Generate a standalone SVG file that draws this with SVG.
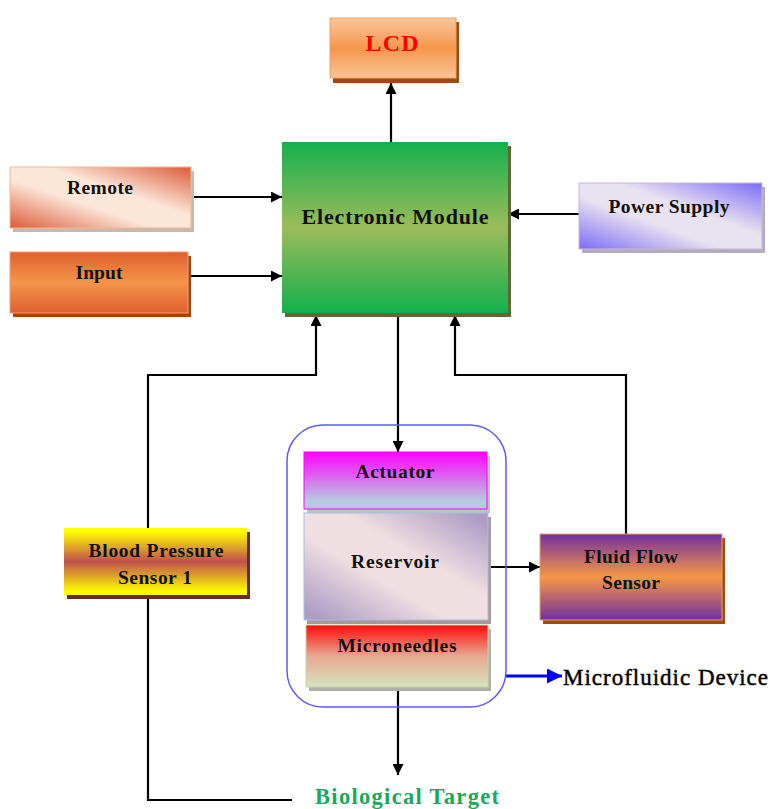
<svg xmlns="http://www.w3.org/2000/svg" width="771" height="809" viewBox="0 0 771 809">
<style>
.t{font-family:"Liberation Serif","Times New Roman",serif;font-weight:bold;fill:#111;text-anchor:middle;font-size:19.5px}
.c{fill:none;stroke:#000;stroke-width:2.2}
</style>
<defs>
<marker id="ah" viewBox="0 0 10 10" refX="10" refY="5" markerWidth="5" markerHeight="5" orient="auto" markerUnits="strokeWidth"><path d="M0,0 L10,5 L0,10 z" fill="#000"/></marker>
<marker id="ahb" viewBox="0 0 10 10" refX="10" refY="5" markerWidth="5" markerHeight="5" orient="auto" markerUnits="strokeWidth"><path d="M0,0 L10,5 L0,10 z" fill="#0000ff"/></marker>
<linearGradient id="gLcd" x1="0" y1="0" x2="0" y2="1"><stop offset="0" stop-color="#fac79f"/><stop offset="0.5" stop-color="#f5974b"/><stop offset="1" stop-color="#f9c498"/></linearGradient>
<linearGradient id="gEm" x1="0" y1="0" x2="0" y2="1"><stop offset="0" stop-color="#14b04e"/><stop offset="0.5" stop-color="#9cbb5a"/><stop offset="1" stop-color="#14b04e"/></linearGradient>
<linearGradient id="gRem" x1="1" y1="0" x2="0" y2="1"><stop offset="0" stop-color="#dc5a38"/><stop offset="0.4" stop-color="#fbe6d8"/><stop offset="0.6" stop-color="#fbe6d8"/><stop offset="1" stop-color="#dc5a38"/></linearGradient>
<linearGradient id="gIn" x1="0" y1="0" x2="0" y2="1"><stop offset="0" stop-color="#df5f30"/><stop offset="0.5" stop-color="#f5954a"/><stop offset="1" stop-color="#df5f30"/></linearGradient>
<linearGradient id="gPs" x1="1" y1="0" x2="0" y2="1"><stop offset="0" stop-color="#7d6cf5"/><stop offset="0.4" stop-color="#e9e2f0"/><stop offset="0.6" stop-color="#e9e2f0"/><stop offset="1" stop-color="#7d6cf5"/></linearGradient>
<linearGradient id="gAct" x1="0" y1="0" x2="0" y2="1"><stop offset="0" stop-color="#ff00ff"/><stop offset="0.85" stop-color="#b8c8e0"/></linearGradient>
<linearGradient id="gRes" x1="1" y1="0" x2="0" y2="1"><stop offset="0.05" stop-color="#ad9dc5"/><stop offset="0.4" stop-color="#f0dfe2"/><stop offset="0.6" stop-color="#f0dfe2"/><stop offset="0.95" stop-color="#ad9dc5"/></linearGradient>
<linearGradient id="gMn" x1="0" y1="0" x2="0" y2="1"><stop offset="0" stop-color="#ff0a0a"/><stop offset="0.5" stop-color="#e8a890"/><stop offset="1" stop-color="#d6e4c0"/></linearGradient>
<linearGradient id="gBp" x1="0" y1="0" x2="0" y2="1"><stop offset="0.05" stop-color="#ffff00"/><stop offset="0.5" stop-color="#c0504d"/><stop offset="0.95" stop-color="#ffff00"/></linearGradient>
<linearGradient id="gFf" x1="0" y1="0" x2="0" y2="1"><stop offset="0" stop-color="#7030a0"/><stop offset="0.5" stop-color="#f79646"/><stop offset="1" stop-color="#7030a0"/></linearGradient>
</defs>

<g id="connectors">
<line class="c" x1="391" y1="142" x2="391" y2="83" marker-end="url(#ah)"/>
<line class="c" x1="191" y1="197" x2="282" y2="197" marker-end="url(#ah)"/>
<line class="c" x1="188" y1="276" x2="282" y2="276" marker-end="url(#ah)"/>
<line class="c" x1="579" y1="214" x2="508" y2="214" marker-end="url(#ah)"/>
<line class="c" x1="398" y1="314" x2="398" y2="452" marker-end="url(#ah)"/>
<polyline class="c" points="148,530 148,375 316,375 316,315" marker-end="url(#ah)"/>
<polyline class="c" points="626,535 626,375 455,375 455,315" marker-end="url(#ah)"/>
<line class="c" x1="488" y1="567" x2="540" y2="567" marker-end="url(#ah)"/>
<line class="c" x1="398" y1="688" x2="398" y2="775" marker-end="url(#ah)"/>
<polyline class="c" points="148,596 148,800 292,800"/>
<line x1="506" y1="676" x2="562" y2="676" stroke="#0000ff" stroke-width="3" marker-end="url(#ahb)"/>
</g>

<g id="lcd">
<rect x="333" y="22" width="126" height="61" fill="#9c4a0e"/>
<rect x="330" y="18" width="126" height="60" fill="url(#gLcd)" stroke="#f5a060" stroke-width="1"/>
<text class="t" x="392" y="51" style="fill:#ff0000;font-size:24px" textLength="53" lengthAdjust="spacing">LCD</text>
</g>

<g id="electronic-module">
<rect x="285" y="146" width="226" height="171" fill="#5a6a30"/>
<rect x="282" y="142" width="226" height="171" fill="url(#gEm)"/>
<text class="t" x="395" y="224" style="font-size:22px" textLength="187" lengthAdjust="spacing">Electronic Module</text>
</g>

<g id="remote">
<rect x="13" y="171" width="181" height="61" fill="#c8b8b0"/>
<rect x="10" y="167" width="181" height="61" fill="url(#gRem)" stroke="#f6b890" stroke-width="1"/>
<text class="t" x="100" y="194" textLength="66" lengthAdjust="spacing">Remote</text>
</g>

<g id="input">
<rect x="13" y="256" width="178" height="61" fill="#a04612"/>
<rect x="10" y="252" width="178" height="61" fill="url(#gIn)" stroke="#f0a070" stroke-width="1"/>
<text class="t" x="99" y="279" textLength="47" lengthAdjust="spacing">Input</text>
</g>

<g id="power-supply">
<rect x="582" y="187" width="183" height="66" fill="#b4acbc"/>
<rect x="579" y="183" width="183" height="66" fill="url(#gPs)" stroke="#c8b8d8" stroke-width="1"/>
<text class="t" x="669" y="213" textLength="121" lengthAdjust="spacing">Power Supply</text>
</g>

<g id="microfluidic-device">
<rect x="287" y="425" width="219" height="282" rx="36" ry="36" fill="none" stroke="#5a5aff" stroke-width="1.5"/>
</g>

<g id="actuator">
<rect x="307" y="456" width="183" height="57" fill="#c0c0c8"/>
<rect x="304" y="452" width="183" height="57" fill="url(#gAct)" stroke="#ff00ff" stroke-width="1"/>
<text class="t" x="395" y="478" textLength="79" lengthAdjust="spacing">Actuator</text>
</g>

<g id="reservoir">
<rect x="307" y="517" width="184" height="107" fill="#a89898"/>
<rect x="304" y="513" width="184" height="107" fill="url(#gRes)" stroke="#a8c0dc" stroke-width="1"/>
<text class="t" x="395" y="568" textLength="88" lengthAdjust="spacing">Reservoir</text>
</g>

<g id="microneedles">
<rect x="309" y="629" width="182" height="62" fill="#b0b0a8"/>
<rect x="306" y="625" width="182" height="62" fill="url(#gMn)" stroke="#c4d4a8" stroke-width="1"/>
<text class="t" x="397" y="652" textLength="119" lengthAdjust="spacing">Microneedles</text>
</g>

<g id="fluid-flow-sensor">
<rect x="543" y="538" width="182" height="86" fill="#a04a10"/>
<rect x="540" y="534" width="182" height="86" fill="url(#gFf)" stroke="#f0a060" stroke-width="1"/>
<text class="t" x="631" y="563" textLength="94" lengthAdjust="spacing">Fluid Flow</text>
<text class="t" x="631" y="589" textLength="58" lengthAdjust="spacing">Sensor</text>
</g>

<g id="blood-pressure-sensor">
<rect x="67" y="532" width="183" height="67" fill="#6a2a2a"/>
<rect x="64" y="528" width="183" height="67" fill="url(#gBp)"/>
<text class="t" x="156" y="557" textLength="135" lengthAdjust="spacing">Blood Pressure</text>
<text class="t" x="155" y="584" textLength="74" lengthAdjust="spacing">Sensor 1</text>
</g>

<g id="biological-target">
<text class="t" x="407" y="804" style="fill:#1aa85a;font-size:22.5px" textLength="184" lengthAdjust="spacing">Biological Target</text>
</g>

<g id="microfluidic-label">
<text x="563" y="685" font-family="Liberation Serif, Times New Roman, serif" font-size="23" fill="#000" stroke="#000" stroke-width="0.45" textLength="205" lengthAdjust="spacing">Microfluidic Device</text>
</g>
</svg>
